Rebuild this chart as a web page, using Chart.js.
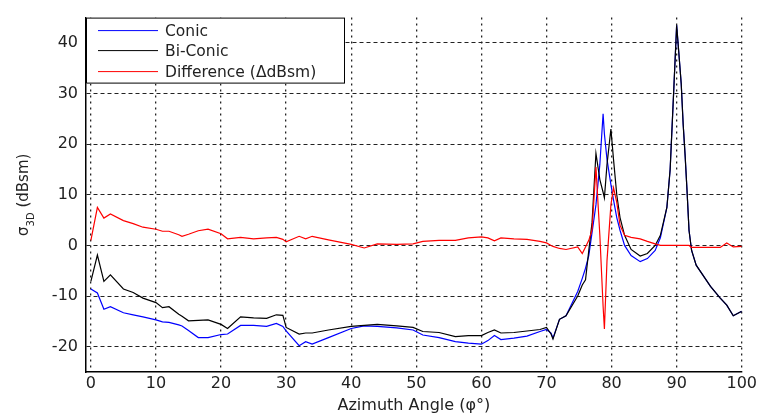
<!DOCTYPE html>
<html>
<head>
<meta charset="utf-8">
<script src="https://cdn.jsdelivr.net/npm/chart.js@4/dist/chart.umd.min.js"></script>
<style>
  html, body { margin: 0; padding: 0; background: #fff; }
</style>
</head>
<body>
<canvas id="rcs" width="759" height="416"></canvas>
<script>
// azimuth angle (deg) and RCS values
const angles = [0, 1, 2, 3, 5, 6.5, 8, 10, 11, 12, 13.5, 14, 15, 16.5, 18, 20, 21, 23, 25, 27, 28.5, 29.5, 30,
  32, 33, 34, 36.5, 40, 42, 44, 47, 49.5, 51, 53.5, 56, 58, 60, 61, 62, 63, 65, 67, 69, 70, 70.7, 71, 72, 73,
  74.8, 75.5, 76, 76.5, 77, 77.6, 78.2, 78.7, 78.9, 79.3, 79.9, 80.3, 80.8, 81.3, 82, 83, 84.4, 85.5, 86.7,
  87.5, 88.5, 89, 89.6, 90, 90.3, 90.7, 91, 91.3, 91.6, 91.9, 92.3, 93, 95.2, 96.7, 97.7, 98.7, 100];

const conic = [-8.6, -9.4, -12.6, -12.1, -13.3, -13.7, -14.1, -14.7, -15.1, -15.2, -15.7, -15.9, -16.8, -18.2, -18.2, -17.6, -17.5, -15.8, -15.8, -16.0, -15.4, -16.0, -16.9,
  -19.8, -19.0, -19.5, -18.2, -16.4, -15.9, -16.0, -16.3, -16.7, -17.7, -18.2, -19.0, -19.3, -19.5, -18.8, -17.8, -18.6, -18.3, -17.9, -17.0, -16.6, -17.3, -18.3, -14.6, -13.9,
  -9.1, -6.5, -4.5, -2.0, 2.5, 8.0, 16.0, 26.0, 22.0, 17.0, 12.0, 9.0, 5.5, 3.0, 0.0, -2.0, -3.2, -2.6, -1.0,
  1.5, 7.5, 15.0, 32.0, 43.5, 38.6, 32.0, 24.0, 17.8, 10.7, 3.0, -1.0, -3.9, -8.1, -10.4, -11.8, -13.9, -13.0];

const biConic = [-7.1, -1.9, -7.1, -5.8, -8.6, -9.3, -10.4, -11.3, -12.3, -12.1, -13.6, -14.0, -14.9, -14.8, -14.7, -15.6, -16.4, -14.1, -14.3, -14.4, -13.7, -13.8, -16.2,
  -17.5, -17.3, -17.3, -16.7, -16.0, -15.8, -15.6, -15.9, -16.2, -17.0, -17.2, -18.0, -17.8, -17.8, -17.2, -16.7, -17.3, -17.2, -16.9, -16.6, -16.2, -17.5, -18.5, -14.6, -13.9,
  -10.0, -7.8, -6.8, -1.0, 4.5, 18.2, 13.0, 10.5, 9.4, 16.0, 23.0, 17.0, 10.0, 5.5, 2.0, -0.8, -2.1, -1.6, 0.0,
  2.0, 7.5, 15.0, 32.0, 43.5, 38.6, 32.0, 24.0, 17.8, 10.7, 3.0, -1.0, -3.9, -8.1, -10.4, -11.8, -13.9, -13.0];

const difference = [1.0, 7.5, 5.4, 6.2, 4.9, 4.3, 3.6, 3.2, 2.8, 2.8, 2.1, 1.8, 2.2, 2.9, 3.2, 2.3, 1.3, 1.6, 1.3, 1.5, 1.6, 1.2, 0.7,
  1.8, 1.3, 1.8, 1.1, 0.2, -0.5, 0.3, 0.2, 0.3, 0.8, 1.0, 1.0, 1.5, 1.7, 1.5, 0.9, 1.5, 1.3, 1.2, 0.8, 0.5, 0.0, -0.2, -0.6, -0.8,
  -0.3, -1.6, -0.3, 1.0, 3.0, 15.5, 2.0, -12.0, -16.5, -3.0, 8.0, 11.4, 8.5, 4.0, 2.0, 1.6, 1.3, 0.8, 0.3,
  0.0, 0.0, 0.0, 0.0, 0.0, 0.0, 0.0, 0.0, 0.0, 0.0, 0.0, -0.4, -0.4, -0.4, -0.4, 0.5, -0.3, -0.2];

const xTicks = [0, 10, 20, 30, 40, 50, 60, 70, 80, 90, 100];
const yTicks = [-20, -10, 0, 10, 20, 30, 40];

const seriesLabels = ['Conic', 'Bi-Conic', 'Difference (\u0394dBsm)'];
const seriesColors = ['#0000ff', '#000000', '#ff0000'];

const FONT = 'DejaVu Sans';
const pts = (ys) => angles.map((a, i) => ({ x: a, y: ys[i] }));

// matlab style legend box in the top-left corner
const legendBox = {
  id: 'legendBox',
  afterDatasetsDraw(chart) {
    const { ctx, chartArea } = chart;
    const x0 = chartArea.left, y0 = chartArea.top;
    ctx.save();
    ctx.fillStyle = '#fff';
    ctx.fillRect(x0, y0, 259, 66);
    ctx.strokeStyle = '#000';
    ctx.lineWidth = 1;
    ctx.strokeRect(x0 + 0.5, y0 + 0.5, 258, 65);
    const rows = [13, 33, 54];
    ctx.font = '15.5px ' + FONT;
    ctx.textBaseline = 'middle';
    seriesLabels.forEach((lbl, i) => {
      ctx.strokeStyle = seriesColors[i];
      ctx.beginPath();
      ctx.moveTo(x0 + 12, y0 + rows[i]);
      ctx.lineTo(x0 + 72, y0 + rows[i]);
      ctx.stroke();
      ctx.fillStyle = '#222';
      ctx.fillText(lbl, x0 + 79, y0 + rows[i] + 1);
    });
    ctx.restore();
  }
};

// y title with subscript: sigma_3D (dBsm)
const yTitle = {
  id: 'yTitle',
  afterDraw(chart) {
    const { ctx, chartArea } = chart;
    const cy = (chartArea.top + chartArea.bottom) / 2;
    ctx.save();
    ctx.translate(28, cy);
    ctx.rotate(-Math.PI / 2);
    ctx.fillStyle = '#222';
    ctx.textBaseline = 'alphabetic';
    const sig = '\u03c3', rest = ' (dBsm)';
    ctx.font = '10px ' + FONT;
    const wSub = ctx.measureText('3D').width;
    ctx.font = '15px ' + FONT;
    const wSig = ctx.measureText(sig).width;
    const wRest = ctx.measureText(rest).width;
    let x = -(wSig + wSub + wRest) / 2;
    ctx.fillText(sig, x, 0);
    x += wSig;
    ctx.font = '10px ' + FONT;
    ctx.fillText('3D', x, 6);
    x += wSub;
    ctx.font = '15px ' + FONT;
    ctx.fillText(rest, x, 0);
    ctx.restore();
  }
};

new Chart(document.getElementById('rcs'), {
  type: 'line',
  data: {
    datasets: [
      { label: seriesLabels[0], data: pts(conic), borderColor: seriesColors[0], order: 2 },
      { label: seriesLabels[1], data: pts(biConic), borderColor: seriesColors[1], order: 1 },
      { label: seriesLabels[2], data: pts(difference), borderColor: seriesColors[2], order: 0 }
    ]
  },
  options: {
    responsive: false,
    animation: false,
    layout: { padding: { left: 0, right: 14, top: 12, bottom: 0 } },
    elements: {
      point: { radius: 0 },
      line: { borderWidth: 1.2, tension: 0 }
    },
    plugins: {
      legend: { display: false },
      tooltip: { enabled: false }
    },
    scales: {
      x: {
        type: 'linear',
        min: -0.75,
        max: 100,
        afterBuildTicks: (s) => { s.ticks = xTicks.map(v => ({ value: v })); },
        afterFit: (s) => { s.height = 44; },
        grid: { color: '#222', lineWidth: 1.3, drawTicks: false },
        // in v4 border.dash styles the grid lines, the axis line stays solid
        border: { display: true, color: '#000', width: 1.5, dash: [2, 4] },
        ticks: { color: '#222', font: { family: FONT, size: 16 }, padding: 2, maxRotation: 0 },
        title: {
          display: true,
          text: 'Azimuth Angle (\u03c6\u00b0)',
          color: '#222',
          font: { family: FONT, size: 16 },
          padding: { top: 0, bottom: 1 }
        }
      },
      y: {
        min: -25,
        max: 45,
        afterBuildTicks: (s) => { s.ticks = yTicks.map(v => ({ value: v })); },
        afterFit: (s) => { s.width = 86; },
        grid: { color: '#222', lineWidth: 1, drawTicks: false },
        border: { display: true, color: '#000', width: 1.5, dash: [4, 3] },
        ticks: { color: '#222', font: { family: FONT, size: 16 }, padding: 8 }
      }
    }
  },
  plugins: [legendBox, yTitle]
});
</script>
</body>
</html>
